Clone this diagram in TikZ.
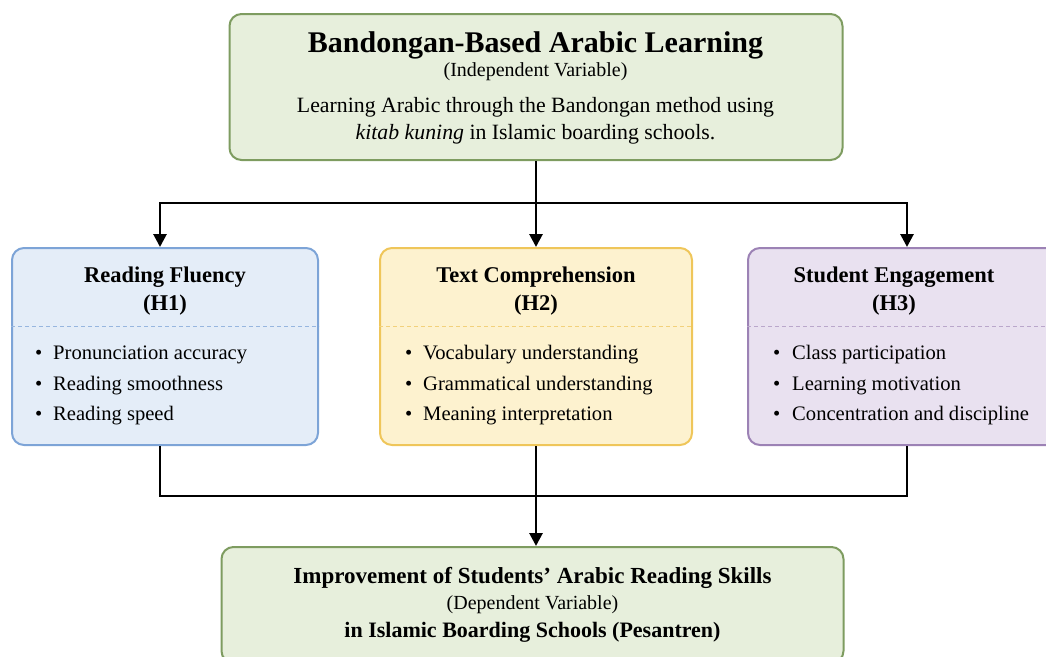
\documentclass[tikz,border=0pt]{standalone}
\usepackage{fontspec}
\setmainfont{Liberation Serif}
\usetikzlibrary{arrows.meta}
\definecolor{gfill}{HTML}{E7EFDC}
\definecolor{gline}{HTML}{7E9C60}
\definecolor{bfill}{HTML}{E4EDF8}
\definecolor{bline}{HTML}{7DA4D7}
\definecolor{yfill}{HTML}{FDF2CF}
\definecolor{yline}{HTML}{EFC65A}
\definecolor{pfill}{HTML}{E9E1F0}
\definecolor{pline}{HTML}{9C82B5}
\tikzset{
  box/.style={draw, line width=2pt, rounded corners=12pt, inner sep=0pt},
  greenbox/.style={box, fill=gfill, draw=gline},
  bluebox/.style={box, fill=bfill, draw=bline},
  yellowbox/.style={box, fill=yfill, draw=yline},
  purplebox/.style={box, fill=pfill, draw=pline},
  txt/.style={inner sep=0pt, text=black},
  conn/.style={line width=2.8pt, black},
  arr/.style={conn, -{Triangle[length=13pt,width=13pt]}},
  sep/.style={line width=1pt, dash pattern=on 4pt off 3pt},
}
\newcommand{\bigt}{\fontsize{30}{34}\selectfont\bfseries}
\newcommand{\subt}{\fontsize{20}{24}\selectfont}
\newcommand{\bodyt}{\fontsize{21.8}{26}\selectfont}
\newcommand{\headt}{\fontsize{22.5}{26}\selectfont\bfseries}
\newcommand{\itemt}{\fontsize{20.6}{24}\selectfont}
\begin{document}
\begin{tikzpicture}[x=1pt,y=-1pt]
\useasboundingbox (0,0) rectangle (1046,656);
\clip (0,0) rectangle (1046,656);
% top box
\node[greenbox, minimum width=613pt, minimum height=146pt] (top) at (536,87) {};
\node[txt, font=\bigt] (toptitle) at (535.5,45) {Bandongan-Based Arabic Learning};
\node[txt, font=\subt] (topsub) at (535.5,72) {(Independent Variable)};
\node[txt, font=\bodyt] (topl1) at (535.5,107) {Learning Arabic through the Bandongan method using};
\node[txt, font=\bodyt] (topl2) at (535.5,134) {\textit{kitab kuning} in Islamic boarding schools.};
% middle boxes
\node[bluebox, minimum width=306pt, minimum height=197pt] (b1) at (165,346.5) {};
\node[yellowbox, minimum width=312pt, minimum height=197pt] (b2) at (536,346.5) {};
\node[purplebox, minimum width=318pt, minimum height=197pt] (b3) at (907,346.5) {};
\draw[sep, draw=bline!80] (b1.west |- 0,326) coordinate (d1a) -- (b1.east |- 0,326) coordinate (d1b);
\draw[sep, draw=yline!80] (b2.west |- 0,326) coordinate (d2a) -- (b2.east |- 0,326) coordinate (d2b);
\draw[sep, draw=pline!70] (b3.west |- 0,326) coordinate (d3a) -- (b3.east |- 0,326) coordinate (d3b);
\node[txt, font=\headt] (h1) at (165,277) {Reading Fluency};
\node[txt, font=\headt] (h1b) at (165,305) {(H1)};
\node[txt, font=\headt] (h2) at (536,277) {Text Comprehension};
\node[txt, font=\headt] (h2b) at (536,305) {(H2)};
\node[txt, font=\headt] (h3) at (894,277) {Student Engagement};
\node[txt, font=\headt] (h3b) at (894,305) {(H3)};
% bullets
\foreach \bx/\tx/\pre/\a/\b/\c in {
  35/53/p/Pronunciation accuracy/Reading smoothness/Reading speed,
  405/423/q/Vocabulary understanding/Grammatical understanding/Meaning interpretation,
  773/792/r/Class participation/Learning motivation/Concentration and discipline}{
  \node[txt, font=\itemt, anchor=base west] (\pre b1) at (\bx,359) {\textbullet};
  \node[txt, font=\itemt, anchor=base west] (\pre t1) at (\tx,359) {\a};
  \node[txt, font=\itemt, anchor=base west] (\pre b2) at (\bx,390) {\textbullet};
  \node[txt, font=\itemt, anchor=base west] (\pre t2) at (\tx,390) {\b};
  \node[txt, font=\itemt, anchor=base west] (\pre b3) at (\bx,420) {\textbullet};
  \node[txt, font=\itemt, anchor=base west] (\pre t3) at (\tx,420) {\c};
}
% bottom box
\node[greenbox, minimum width=622pt, minimum height=116pt] (bot) at (532.5,605) {};
\node[txt, font=\headt] (bottitle) at (532.5,578) {\fontsize{23}{26}\selectfont Improvement of Students’ Arabic Reading Skills};
\node[txt, font=\subt] (botsub) at (532.5,605) {(Dependent Variable)};
\node[txt, font=\headt] (botl2) at (532.5,632) {\fontsize{22}{26}\selectfont in Islamic Boarding Schools (Pesantren)};
% connectors
\coordinate (split) at (536,203);
\coordinate (merge) at (536,496);
\draw[conn] (top.south) -- (split);
\draw[arr] (split) -| ([xshift=-5pt]b1.north);
\draw[arr] (split) -- (b2.north);
\draw[arr] (split) -| (b3.north);
\draw[conn] ([xshift=-5pt]b1.south) |- (merge);
\draw[conn] (b3.south) |- (merge);
\draw[conn] (b2.south) -- (merge);
\draw[arr] (merge) -- (merge |- bot.north);
\end{tikzpicture}
\end{document}
